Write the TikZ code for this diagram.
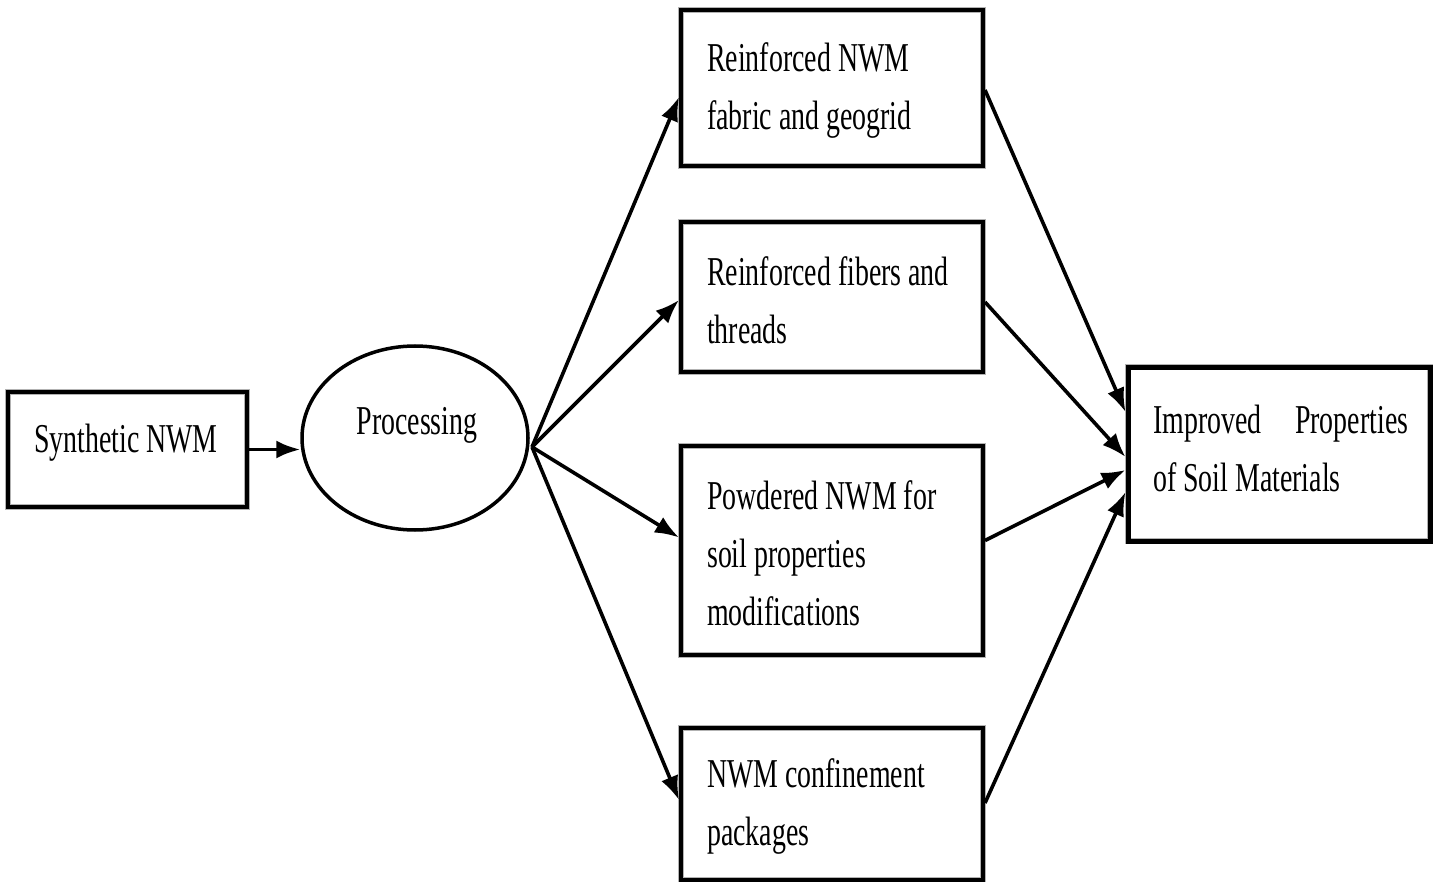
\documentclass[tikz,border=0pt]{standalone}
\usepackage{fontspec}
\setmainfont{Liberation Serif}[FakeStretch=0.68]
\usetikzlibrary{shapes.geometric,arrows.meta}
\tikzset{
  boxtxt/.style={font=\fontsize{41}{58}\selectfont},
  stagebox/.style={rectangle, draw=black, line width=4pt,
    preaction={draw=gray!60, line width=6.5pt},
    inner sep=0pt, minimum width=302pt},
  stagetxt/.style={boxtxt, anchor=west, align=left, inner sep=0pt},
  flowarrow/.style={line width=3.6pt, -{Latex[length=24pt,width=18pt]}},
}
\begin{document}
\begin{tikzpicture}[x=1pt,y=-1pt]
\useasboundingbox (0,0) rectangle (1437,882);

\node[stagebox, minimum width=239pt, minimum height=115pt] (syn) at (127.5,449.5) {};
\node[boxtxt, inner sep=0pt] (syntxt) at (126,443) {Synthetic NWM};

\node[ellipse, draw=black, line width=3.5pt, minimum width=226pt, minimum height=184pt, inner sep=0pt] (proc) at (415,438) {};
\node[boxtxt, inner sep=0pt] (proctext) at (417,425) {Processing};
\coordinate (fan) at (532,447);

\node[stagebox, minimum height=156pt] (b1) at (832,88) {};
\node[stagetxt] (b1t) at (707,90) {Reinforced NWM\\fabric and geogrid};
\node[stagebox, minimum height=150pt] (b2) at (832,297) {};
\node[stagetxt] (b2t) at (707,300) {Reinforced fibers and\\threads};
\node[stagebox, minimum height=209pt] (b3) at (832,550.5) {};
\node[stagetxt] (b3t) at (707,553) {Powdered NWM for\\soil properties\\modifications};
\node[stagebox, minimum height=152pt] (b4) at (832,804) {};
\node[stagetxt] (b4t) at (707,806) {NWM confinement\\packages};

\node[stagebox, line width=5pt, minimum height=174pt] (imp) at (1279,454) {};
\node[stagetxt] (impt) at (1153,448) {\hbox to 255pt{Improved\hfill Properties}\\of Soil Materials};

\draw[flowarrow] (syn.east) -- (syn.east -| proc.west);

\draw[flowarrow] (fan) -- ([yshift=-9pt]b1.west);
\draw[flowarrow] (fan) -- ([yshift=-3pt]b2.west);
\draw[flowarrow] (fan) -- ([yshift=13pt]b3.west);
\draw[flowarrow] (fan) -- ([yshift=4pt]b4.west);

\draw[flowarrow] ([yshift=-2pt]b1.east) -- ([yshift=42pt]imp.west);
\draw[flowarrow] ([yshift=-5pt]b2.east) -- ([yshift=-3pt]imp.west);
\draw[flowarrow] ([yshift=10pt]b3.east) -- ([yshift=-16pt]imp.west);
\draw[flowarrow] ([yshift=1pt]b4.east) -- ([yshift=-38pt]imp.west);
\end{tikzpicture}
\end{document}
